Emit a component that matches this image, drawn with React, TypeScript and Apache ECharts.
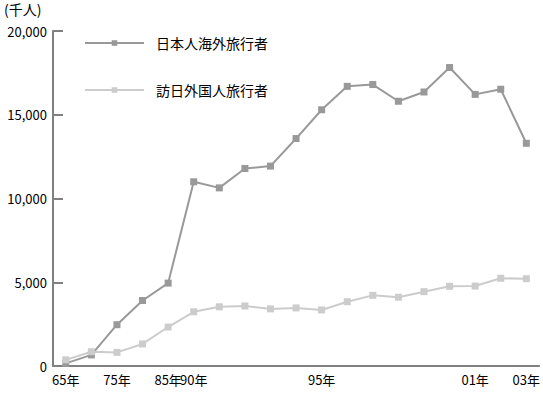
import React, { useEffect, useRef } from "react";
import * as echarts from "echarts";

const categories = ["65", "70", "75", "80", "85", "90", "91", "92", "93", "94", "95", "96", "97", "98", "99", "00", "01", "02", "03"];
const shownLabels: Record<string, string> = { "65": "65年", "75": "75年", "85": "85年", "90": "90年", "95": "95年", "01": "01年", "03": "03年" };
const outbound = [159, 663, 2466, 3909, 4948, 10997, 10634, 11791, 11934, 13579, 15298, 16695, 16803, 15806, 16358, 17819, 16216, 16523, 13296];
const inbound = [367, 854, 812, 1317, 2327, 3236, 3533, 3582, 3410, 3468, 3345, 3837, 4218, 4106, 4438, 4757, 4772, 5239, 5212];
const seriesNames = ["日本人海外旅行者", "訪日外国人旅行者"];

const FONT = "'Noto Sans CJK JP', 'Noto Sans', sans-serif";

export default function App() {
  const ref = useRef<HTMLDivElement>(null);
  useEffect(() => {
    if (!ref.current) return;
    const chart = echarts.init(ref.current, undefined, { renderer: "svg" });
    chart.setOption({
      animation: false,
      textStyle: { fontFamily: FONT },
      grid: { left: 53, right: 2, top: 31, bottom: 28 },
      graphic: [
        { type: "text", left: 4, top: 2, style: { text: "(千人)", font: `14px ${FONT}`, fill: "#000" } },
      ],
      legend: {
        orient: "vertical",
        left: 79,
        top: 31,
        itemGap: 33,
        itemWidth: 59,
        itemHeight: 7,
        textStyle: { fontSize: 14, color: "#000", fontFamily: FONT, padding: [0, 0, 0, 7] },
        data: seriesNames,
      },
      xAxis: {
        type: "category",
        data: categories,
        boundaryGap: true,
        axisLine: { lineStyle: { color: "#808080", width: 2 } },
        axisTick: { inside: true, length: 7, interval: 0, lineStyle: { color: "#333", width: 1 } },
        axisLabel: {
          interval: 0,
          margin: 7,
          fontSize: 13,
          color: "#000",
          fontFamily: FONT,
          formatter: (v: string) => shownLabels[v] || "",
        },
      },
      yAxis: {
        type: "value",
        min: 0,
        max: 20000,
        interval: 5000,
        splitLine: { show: false },
        axisLine: { show: true, lineStyle: { color: "#808080", width: 2 } },
        axisTick: { show: true, inside: true, length: 10, lineStyle: { color: "#808080", width: 2 } },
        axisLabel: {
          margin: 6,
          fontSize: 13,
          color: "#000",
          fontFamily: FONT,
          formatter: (v: number) => v.toLocaleString("en-US"),
        },
      },
      series: [
        {
          name: seriesNames[0],
          type: "line",
          data: outbound,
          symbol: "rect",
          symbolSize: 7,
          lineStyle: { color: "#999999", width: 2 },
          itemStyle: { color: "#999999" },
        },
        {
          name: seriesNames[1],
          type: "line",
          data: inbound,
          symbol: "rect",
          symbolSize: 7,
          lineStyle: { color: "#cccccc", width: 2 },
          itemStyle: { color: "#cccccc" },
        },
      ],
    });
    return () => chart.dispose();
  }, []);
  return <div ref={ref} style={{ width: 543, height: 394, position: "absolute", left: 0, top: 0 }} />;
}
